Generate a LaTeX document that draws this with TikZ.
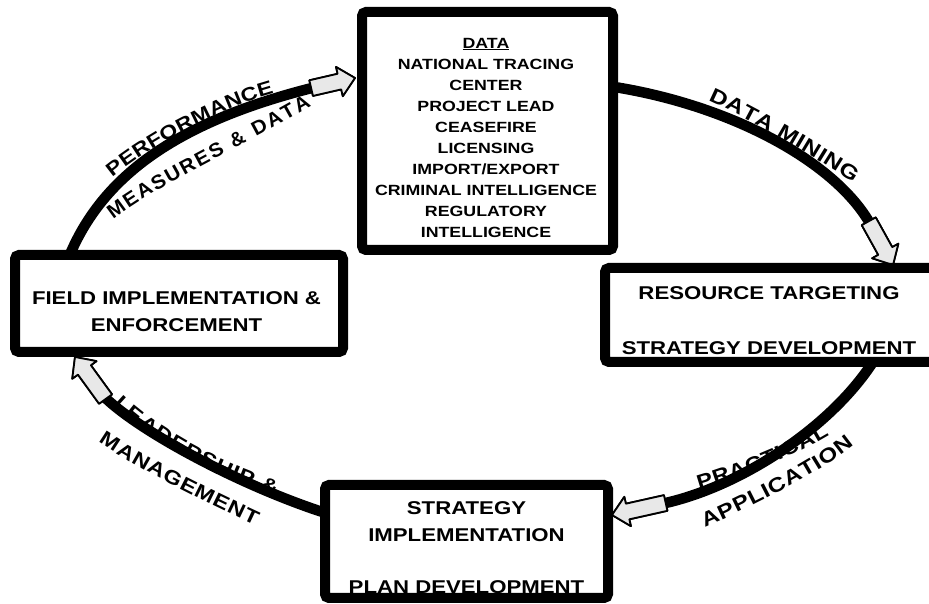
\documentclass[tikz,border=0pt]{standalone}
\usepackage{fontspec}
\setmainfont{Liberation Sans}
\newfontfamily\lab{Liberation Sans}[FakeStretch=1.2]
\newfontfamily\labn{Liberation Sans}[FakeStretch=1.05]
\usetikzlibrary{decorations.text,calc}
\newcommand\bigf{\lab\bfseries\fontsize{18.5}{27}\selectfont}
\newcommand\smallf{\lab\bfseries\fontsize{14.8}{21.1}\selectfont}
\newcommand\cf[1]{\lab\bfseries\fontsize{#1}{24}\selectfont}
\newcommand\cn[1]{\labn\bfseries\fontsize{#1}{24}\selectfont}
\newcommand\blockarr[4]{%
  \begin{scope}[shift={(#2)}, rotate=#3]
    \draw[arrowbox] (0,0) -- (-16,15) -- (-16,8) -- (-#4,8) -- (-#4,-8) -- (-16,-8) -- (-16,-15) -- cycle;
    \coordinate (#1) at (-#4+4,0);
  \end{scope}}
\begin{document}
\begin{tikzpicture}[x=1pt,y=1pt,
  box/.style={draw=black, line width=10pt, fill=white, rounded corners=4pt, inner sep=0pt},
  flow/.style={line width=10.5pt, draw=black},
  arrowbox/.style={draw=black, line width=1.8pt, fill=gray!18, line join=round},
  boxtext/.style={align=center, inner sep=0pt},
  lbl/.style 2 args={decorate, decoration={text along path, text align={fit to path}, raise=-7pt, text={|#1|#2}}}
]
\useasboundingbox (0,0) rectangle (929,604);
\clip (0,0) rectangle (929,604);

% curved labels
\path[lbl={\cf{19.2}}{PERFORMANCE}] (108,432) .. controls (150,466) and (220,503) .. (272,517);
\path[lbl={\cn{19.8}}{MEASURES {\&} DATA}] (109,390) .. controls (155,426) and (240,464) .. (308,504);
\path[lbl={\cf{20.4}}{DATA MINING}] (711,510) .. controls (750,493) and (815,455) .. (857,427);
\path[lbl={\cf{19.8}}{PRACTICAL}] (697,121) .. controls (732,131) and (792,154) .. (826,175);
\path[lbl={\cf{20.2}}{APPLICATION}] (702,83) .. controls (740,99) and (820,139) .. (850,165);
\path[lbl={\cf{19.8}}{LEADERSHIP {\&}}] (118,205) .. controls (152,172) and (212,137) .. (278,116);
\path[lbl={\cf{19.6}}{MANAGEMENT}] (102,168) .. controls (140,142) and (200,112) .. (258,85);

% box positions
\path (487.5,473) node[minimum width=251, minimum height=238, inner sep=0pt] (data) {};
\path (179,300.5) node[minimum width=328, minimum height=97, inner sep=0pt] (field) {};
\path (775,289) node[minimum width=340, minimum height=94, inner sep=0pt] (res) {};
\path (466.5,62.5) node[minimum width=283, minimum height=113, inner sep=0pt] (plan) {};

% arrow tails
\blockarr{a1t}{355,526}{13}{45}
\blockarr{a2t}{893,339}{-61}{50}
\blockarr{a3t}{612,89}{192.6}{55}
\blockarr{a4t}{75,247}{126}{52}

% flows
\draw[flow] ([xshift=55pt]field.north west) .. controls +(67:88) and +(194:139) .. (a1t);
\draw[flow] ([yshift=-75pt]data.north east) .. controls +(-9:121) and +(119:71) .. (a2t);
\draw[flow] ([xshift=268pt]res.south west) .. controls +(237:79) and +(12:79) .. (a3t);
\draw[flow] ([yshift=-28pt]plan.north west) .. controls +(162:91) and +(-45:49) .. (a4t);

% arrows on top of flows
\blockarr{a1u}{355,526}{13}{45}
\blockarr{a2u}{893,339}{-61}{50}
\blockarr{a3u}{612,89}{192.6}{55}
\blockarr{a4u}{75,247}{126}{52}

% boxes
\node[box, minimum width=251, minimum height=238] (databox) at (data) {};
\node[box, minimum width=328, minimum height=97] (fieldbox) at (field) {};
\node[box, minimum width=340, minimum height=94] (resbox) at (res) {};
\node[box, minimum width=283, minimum height=113] (planbox) at (plan) {};

\node[boxtext, font=\smallf] (datat) at (486,466) {\underline{DATA}\\NATIONAL TRACING\\CENTER\\PROJECT LEAD\\CEASEFIRE\\LICENSING\\IMPORT/EXPORT\\CRIMINAL INTELLIGENCE\\REGULATORY\\INTELLIGENCE};
\node[boxtext, font=\bigf] (fieldt) at (176.5,292.5) {FIELD IMPLEMENTATION \&\\ENFORCEMENT};
\node[boxtext, font=\bigf] (rest) at (769,283.5) {RESOURCE TARGETING\\[28pt]STRATEGY DEVELOPMENT};
\node[boxtext, font=\bigf] (plant) at (466.5,56.5) {STRATEGY\\IMPLEMENTATION\\[25pt]PLAN DEVELOPMENT};
\end{tikzpicture}
\end{document}
